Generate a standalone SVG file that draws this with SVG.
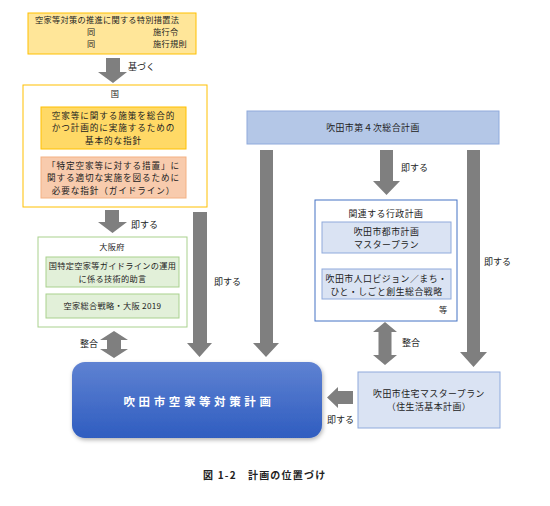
<svg xmlns="http://www.w3.org/2000/svg" width="550" height="506" viewBox="0 0 550 506">
<defs>
<linearGradient id="gMain" x1="0" y1="0" x2="0" y2="1">
<stop offset="0" stop-color="#5F82D2"/>
<stop offset="1" stop-color="#2F5DC0"/>
</linearGradient>
<filter id="sh" x="-10%" y="-10%" width="125%" height="130%">
<feDropShadow dx="1" dy="2" stdDeviation="2" flood-color="#000" flood-opacity="0.3"/>
</filter>
</defs>
<style>
text{font-family:"Noto Sans CJK JP","Noto Sans",sans-serif;fill:#222;font-size:9px;}
.s{font-size:8.2px;letter-spacing:0.3px;}
.m{font-size:8.6px;letter-spacing:0.9px;}
.n{font-size:8.9px;letter-spacing:0.5px;}
.c{text-anchor:middle;}
.arr{fill:#7F7F7F;}
</style>
<rect width="550" height="506" fill="#fff"/>

<g id="law">
<rect x="28" y="13" width="168" height="41" fill="#FFE699" stroke="#FFC000" stroke-width="1"/>
<text class="s" x="35" y="23">空家等対策の推進に関する特別措置法</text>
<text class="s" x="87" y="35">同</text>
<text class="s" x="153" y="35">施行令</text>
<text class="s" x="87" y="47">同</text>
<text class="s" x="153" y="47">施行規則</text>
</g>

<g id="kuni">
<rect x="23" y="85" width="184" height="122" fill="#fff" stroke="#FFC000" stroke-width="1"/>
<text class="s c" x="115" y="97">国</text>
<rect x="41" y="107" width="145" height="42" fill="#FFD966" stroke="#FFC000" stroke-width="1"/>
<text class="m c" x="113.5" y="118.5">空家等に関する施策を総合的</text>
<text class="m c" x="113.5" y="131">かつ計画的に実施するための</text>
<text class="m c" x="113.5" y="143.5">基本的な指針</text>
<rect x="41" y="157" width="145" height="41" fill="#F8CBAD" stroke="#F4B183" stroke-width="1"/>
<text class="m c" x="113.5" y="168.5">「特定空家等に対する措置」に</text>
<text class="m c" x="113.5" y="181">関する適切な実施を図るために</text>
<text class="m c" x="113.5" y="193.5">必要な指針（ガイドライン）</text>
</g>

<g id="osaka">
<rect x="38" y="237" width="149" height="90" fill="#fff" stroke="#A9D18E" stroke-width="1"/>
<text class="s c" x="112" y="250">大阪府</text>
<rect x="46" y="257" width="133" height="30" fill="#E2F0D9" stroke="#A9D18E" stroke-width="1"/>
<text class="s c" x="112.5" y="269">国特定空家等ガイドラインの運用</text>
<text class="s c" x="112.5" y="281.5">に係る技術的助言</text>
<rect x="46" y="294" width="133" height="24" fill="#E2F0D9" stroke="#A9D18E" stroke-width="1"/>
<text class="s c" x="112.5" y="309">空家総合戦略・大阪 2019</text>
</g>

<g id="sogo">
<rect x="247" y="111" width="252" height="33" fill="#B4C7E7" stroke="#8FAADC" stroke-width="1"/>
<text class="n c" x="373" y="131">吹田市第４次総合計画</text>
</g>

<g id="gyosei">
<rect x="315" y="200" width="142" height="121" fill="#fff" stroke="#4472C4" stroke-width="1"/>
<text class="n c" x="386" y="217">関連する行政計画</text>
<rect x="322" y="222" width="129" height="31" fill="#DAE3F3" stroke="#8FAADC" stroke-width="1"/>
<text class="n c" x="386.5" y="235">吹田市都市計画</text>
<text class="n c" x="386.5" y="248">マスタープラン</text>
<rect x="322" y="269" width="129" height="30" fill="#DAE3F3" stroke="#8FAADC" stroke-width="1"/>
<text class="n c" x="386.5" y="282">吹田市人口ビジョン／まち・</text>
<text class="n c" x="386.5" y="295">ひと・しごと創生総合戦略</text>
<text class="s" x="439" y="313">等</text>
</g>

<g id="jutaku">
<rect x="358" y="372" width="142" height="56" fill="#DAE3F3" stroke="#8FAADC" stroke-width="1"/>
<text class="n c" x="429" y="397">吹田市住宅マスタープラン</text>
<text class="n c" x="429" y="410">（住生活基本計画）</text>
</g>

<g id="main">
<rect x="72" y="362" width="250" height="76" rx="13" ry="13" fill="url(#gMain)" filter="url(#sh)"/>
<text class="c" x="199" y="406" style="fill:#fff;font-size:11.5px;font-weight:bold;letter-spacing:3.6px">吹田市空家等対策計画</text>
</g>

<g id="connectors">
<polygon class="arr" points="106,58 120,58 120,72 127,72 113,83 98,72 106,72"/>
<text x="128" y="70">基づく</text>
<polygon class="arr" points="105,210 119,210 119,222 127,222 112.5,233 98,222 105,222"/>
<text x="131" y="228">即する</text>
<polygon class="arr" points="193,212 207,212 207,343 212,343 199.5,357 187,343 193,343"/>
<text x="214" y="285">即する</text>
<polygon class="arr" points="260,150 273,150 273,343 279,343 266,357 253,343 260,343"/>
<polygon class="arr" points="380,150 393,150 393,181 400,181 386.5,195 373,181 380,181"/>
<text x="401" y="171">即する</text>
<polygon class="arr" points="467,150 480,150 480,352 487,352 473.5,367 460,352 467,352"/>
<text x="484" y="265">即する</text>
<polygon class="arr" points="114,331 128,340 121,340 121,349 128,349 114,358 100,349 107,349 107,340 100,340"/>
<text x="80" y="347">整合</text>
<polygon class="arr" points="385,322 397,332 391.5,332 391.5,355 397,355 385,365 373,355 378.5,355 378.5,332 373,332"/>
<text x="402" y="346">整合</text>
<polygon class="arr" points="327,397.5 338,387 338,391 353,391 353,404 338,404 338,408"/>
<text x="327" y="423">即する</text>
</g>

<text x="203" y="479" style="font-size:10px;font-weight:bold;letter-spacing:1.2px">図 1-2　計画の位置づけ</text>
</svg>
